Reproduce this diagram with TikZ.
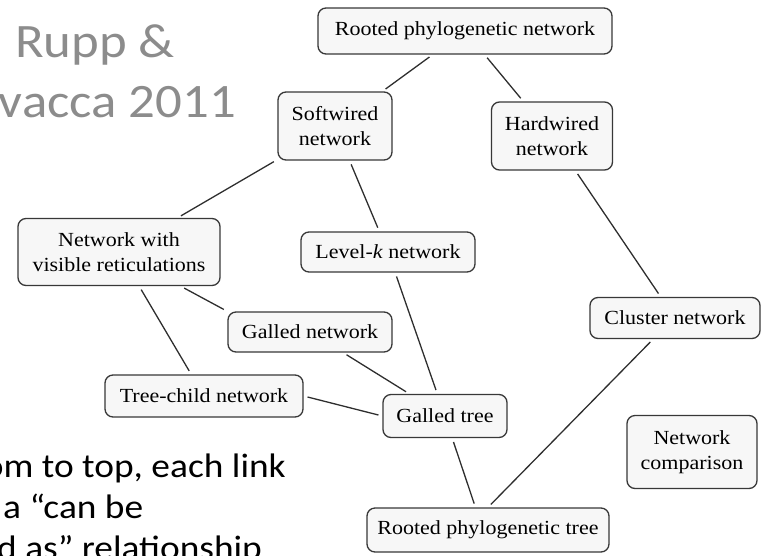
\documentclass[tikz,border=0pt]{standalone}
\usepackage{fontspec}
\setmainfont[FakeStretch=1.1]{Liberation Serif}
\newfontfamily\slidefont[FakeStretch=1.1]{Carlito}

\begin{document}
\begin{tikzpicture}[
  x=1pt, y=-1pt,
  box/.style={draw=black!78, line width=1.3pt, fill=black!3, rounded corners=8pt, align=center, inner sep=0pt, font=\fontsize{20}{25}\selectfont},
  link/.style={draw=black!82, line width=1.3pt, shorten <=4pt, shorten >=4pt},
  note/.style={inner sep=0pt, font=\slidefont\fontsize{34}{40}\selectfont}
]
\useasboundingbox (0,0) rectangle (763,555);

% slide text around the chart
\node[note, text=black!45, font=\slidefont\fontsize{48}{56}\selectfont, anchor=base west] (ref1) at (15,57) {Rupp \&};
\node[note, text=black!45, font=\slidefont\fontsize{48}{56}\selectfont, anchor=base east] (ref2) at (236,117) {vacca 2011};
\node[note, anchor=base east] (cap1) at (286,477) {om to top, each link};
\node[note, anchor=base west] (cap2) at (3,518) {a “can be};
\node[note, anchor=base west] (cap3) at (-3,559) {d as” relationship};

% network classes
\node[box, minimum width=294, minimum height=46] (rpn) at (465,31) {Rooted phylogenetic network};
\node[box, minimum width=114, minimum height=68] (soft) at (335,126) {Softwired\\network};
\node[box, minimum width=121, minimum height=68] (hard) at (552,136) {Hardwired\\network};
\node[box, minimum width=202, minimum height=67] (nwvr) at (119,252) {Network with\\visible reticulations};
\node[box, minimum width=174, minimum height=40] (levk) at (388,252) {Level-\textit{k} network};
\node[box, minimum width=164, minimum height=40] (gnet) at (310,332) {Galled network};
\node[box, minimum width=170, minimum height=41] (cluster) at (675,318) {Cluster network};
\node[box, minimum width=198, minimum height=42] (tchild) at (204,396) {Tree-child network};
\node[box, minimum width=124, minimum height=43] (gtree) at (445,416) {Galled tree};
\node[box, minimum width=130, minimum height=73] (comp) at (692,452) {Network\\comparison};
\node[box, minimum width=242, minimum height=44] (rtree) at (488,530) {Rooted phylogenetic tree};

% "can be regarded as" links
\draw[link] (rpn) -- (soft);
\draw[link] (rpn) -- (hard);
\draw[link] (soft) -- (nwvr);
\draw[link] (soft) -- (levk);
\draw[link] (hard) -- (cluster);
\draw[link] (nwvr.-29) -- (gnet.north west);
\draw[link] (nwvr) -- (tchild);
\draw[link] (levk) -- (gtree);
\draw[link] (gnet) -- (gtree);
\draw[link] (tchild.east) -- (gtree.west);
\draw[link] (gtree.-72) -- (rtree.119);
\draw[link] (cluster.-136) -- (rtree.north);
\end{tikzpicture}
\end{document}
